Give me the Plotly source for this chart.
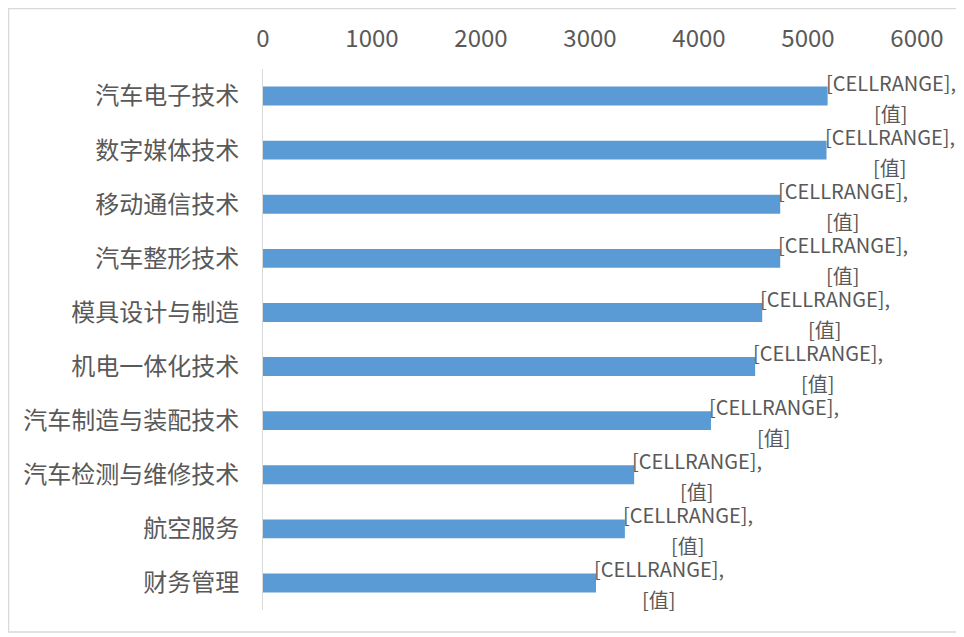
import plotly.graph_objects as go

categories = ["汽车电子技术", "数字媒体技术", "移动通信技术", "汽车整形技术", "模具设计与制造",
              "机电一体化技术", "汽车制造与装配技术", "汽车检测与维修技术", "航空服务", "财务管理"]
values = [5180, 5170, 4745, 4745, 4580, 4515, 4110, 3405, 3320, 3055]
label_line1 = "[CELLRANGE],"
label_line2 = "[值]"
tick_vals = [0, 1000, 2000, 3000, 4000, 5000, 6000]

# page has an 8px body margin, so the figure is sized to fit inside it
W, H = 956, 629
L, R, T, B = 255, 47, 61, 27
pw, ph = W - L - R, H - T - B

fig = go.Figure(go.Bar(
    y=categories, x=values, orientation="h",
    marker=dict(color="#5b9bd5", line=dict(width=0)),
    cliponaxis=False,
))

lab_font = dict(family="Noto Sans CJK SC", size=20, color="#595959")
annotations = []
for cat, val in zip(categories, values):
    annotations.append(dict(x=val, y=cat, xref="x", yref="y", text=label_line1,
                            showarrow=False, xanchor="center", yanchor="middle",
                            xshift=63, yshift=14, font=lab_font))
    annotations.append(dict(x=val, y=cat, xref="x", yref="y", text=label_line2,
                            showarrow=False, xanchor="center", yanchor="middle",
                            xshift=63, yshift=-17, font=lab_font))

fig.update_layout(
    width=W, height=H,
    margin=dict(l=L, r=R, t=T, b=B),
    paper_bgcolor="white", plot_bgcolor="white",
    bargap=0.65, showlegend=False,
    font=dict(family="Noto Sans CJK SC", color="#595959"),
    xaxis=dict(side="top", range=[0, 6000], tickvals=tick_vals, showgrid=False,
               zeroline=False, showline=False, ticks="", ticklabelstandoff=16,
               tickfont=dict(size=24, color="#595959")),
    yaxis=dict(range=[len(categories) - 0.5, -0.5], autorange=False,
               showgrid=False, zeroline=False, showline=True,
               linecolor="#d9d9d9", linewidth=1, ticks="", ticklabelstandoff=18,
               tickfont=dict(size=24, color="#595959")),
    annotations=annotations,
    shapes=[dict(type="rect", xref="paper", yref="paper",
                 x0=(0.5 - L) / pw, x1=(950 - L) / pw,
                 y0=(H - B - 624) / ph, y1=(H - B - 0.5) / ph,
                 line=dict(color="#d9d9d9", width=1.5), layer="below")],
)

fig.write_html("out.html")
